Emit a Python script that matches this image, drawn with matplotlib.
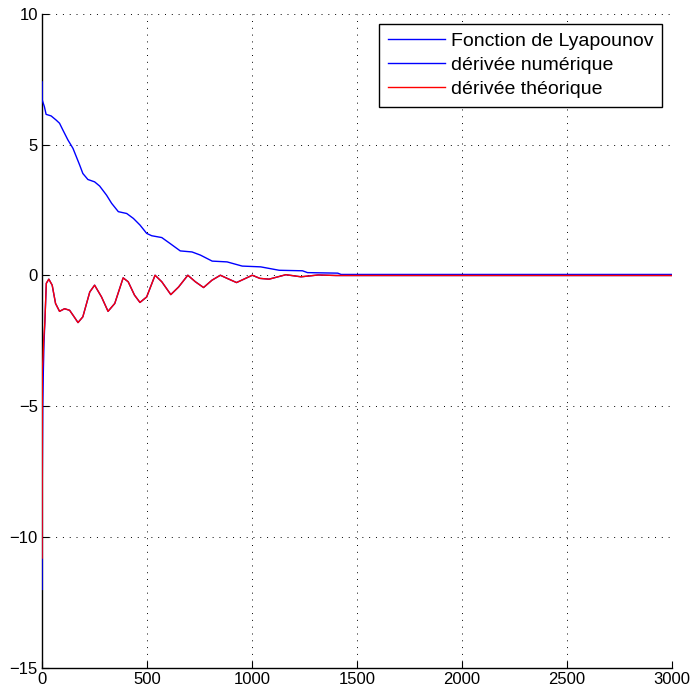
import matplotlib
matplotlib.use("Agg")
import matplotlib.pyplot as plt

plt.rcParams['font.family'] = ['Liberation Sans', 'DejaVu Sans']

# Lyapunov function
lyap_x = [0, 0.5, 11, 19, 43, 67, 83, 99, 123, 147, 163, 179, 194, 218, 250, 274, 307, 331,
          363, 403, 435, 466, 498, 522, 570, 610, 658, 714, 754, 810, 881, 953, 1041,
          1129, 1240, 1264, 1408, 1424, 2000, 3000]
lyap_y = [7.4, 6.71, 6.45, 6.16, 6.1, 5.94, 5.82, 5.56, 5.18, 4.86, 4.54, 4.22, 3.9, 3.67,
          3.58, 3.42, 3.07, 2.76, 2.44, 2.37, 2.18, 1.93, 1.61, 1.52, 1.45, 1.22, 0.94, 0.9,
          0.78, 0.55, 0.52, 0.36, 0.33, 0.2, 0.18, 0.11, 0.09, 0.04, 0.04, 0.04]

# shared oscillating part of both derivatives
osc_x = [20, 32, 48, 64, 83, 107, 131, 150, 171, 194, 227, 250, 283, 314, 346, 386, 410,
         440, 466, 498, 538, 570, 613, 650, 694, 730, 769, 809, 849, 884, 926, 961, 1001,
         1037, 1081, 1161, 1233, 1315, 1400, 2000, 3000]
osc_y = [-0.3, -0.14, -0.37, -1.07, -1.37, -1.27, -1.33, -1.55, -1.8, -1.58, -0.63, -0.37,
         -0.82, -1.37, -1.07, -0.09, -0.24, -0.75, -1.03, -0.82, 0.01, -0.24, -0.73, -0.44,
         0.01, -0.24, -0.46, -0.18, 0.01, -0.12, -0.27, -0.14, 0.01, -0.11, -0.14, 0.03,
         -0.05, 0.02, 0.0, 0.0, 0.0]

num_x = [0, 1, 3, 6, 9, 13] + osc_x
num_y = [-12.0, -7.7, -5.0, -3.6, -2.6, -1.8] + osc_y
th_x = [0, 1, 4, 8, 13] + osc_x
th_y = [-10.8, -3.6, -3.2, -2.4, -1.8] + osc_y

fig = plt.figure(figsize=(6.96, 6.95), dpi=100)
ax = fig.add_axes([0.0605, 0.039, 0.905, 0.941])

ax.plot(lyap_x, lyap_y, color='blue', lw=1.0, label='Fonction de Lyapounov', zorder=3)
ax.plot(num_x, num_y, color='blue', lw=1.0, label='dérivée numérique', zorder=3)
ax.plot(th_x, th_y, color='red', lw=1.0, label='dérivée théorique', zorder=3)

ax.set_xlim(0, 3000)
ax.set_ylim(-15, 10)
ax.set_xticks(range(0, 3001, 500))
ax.set_yticks([-15, -10, -5, 0, 5, 10])
ax.set_yticklabels(['\u221215', '\u221210', '\u22125', '0', '5', '10'])
ax.tick_params(direction='in', labelsize=12, length=5, width=0.8, pad=3)
ax.grid(True, color='black', linestyle=(0, (1, 6)), linewidth=0.7)
ax.spines['top'].set_visible(False)
ax.spines['right'].set_visible(False)
for s in ('left', 'bottom'):
    ax.spines[s].set_linewidth(1.0)

leg = ax.legend(loc='upper right', fontsize=14, handlelength=2.95, frameon=True,
                fancybox=False, edgecolor='black', framealpha=1, borderpad=0.45,
                labelspacing=0.33, handletextpad=0.3, borderaxespad=0.5)
leg.get_frame().set_linewidth(1.0)
leg.set_zorder(5)

fig.savefig('out.png', dpi=100)
